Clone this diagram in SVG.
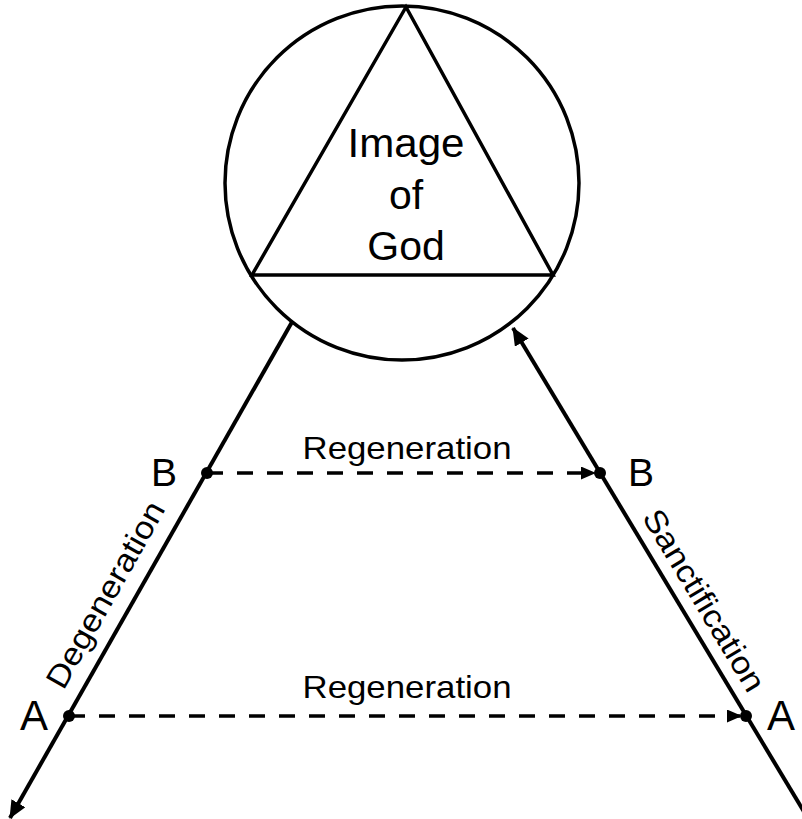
<svg xmlns="http://www.w3.org/2000/svg" width="802" height="819" viewBox="0 0 802 819">
<style>
.ln{fill:none;stroke:#000;stroke-width:4}
.sh{fill:none;stroke:#000;stroke-width:3.5}
.dash{fill:none;stroke:#000;stroke-width:3.5;stroke-dasharray:16 14}
.t{font-family:"Liberation Sans",Arial,sans-serif;fill:#000}
.dot{fill:#000}
</style>
<defs>
<marker id="ah" markerUnits="userSpaceOnUse" markerWidth="22" markerHeight="18" refX="17" refY="8" orient="auto">
<path d="M0,0 L18,8 L0,16 z" fill="#000"/>
</marker>
<marker id="ahs" markerUnits="userSpaceOnUse" markerWidth="18" markerHeight="14" refX="13" refY="6.5" orient="auto">
<path d="M0,0 L15,6.5 L0,13 z" fill="#000"/>
</marker>
</defs>
<rect width="802" height="819" fill="#fff"/>
<g id="image-of-god">
<circle class="sh" cx="402" cy="183" r="177"/>
<polygon class="sh" points="406,7 252,275 553,275"/>
<text class="t" font-size="41" text-anchor="middle" x="406" y="157" textLength="117" lengthAdjust="spacingAndGlyphs">Image</text>
<text class="t" font-size="41" text-anchor="middle" x="406" y="209">of</text>
<text class="t" font-size="41" text-anchor="middle" x="406" y="260">God</text>
</g>
<g id="connectors">
<line id="degeneration-line" class="ln" x1="292" y1="322" x2="10" y2="818" marker-end="url(#ah)"/>
<line id="sanctification-line" class="ln" x1="812" y1="825" x2="513" y2="328" marker-end="url(#ah)"/>
<line id="regen-b" class="dash" x1="207" y1="473" x2="594" y2="473" marker-end="url(#ahs)"/>
<line id="regen-a" class="dash" x1="69" y1="716" x2="740" y2="716" marker-end="url(#ahs)"/>
<text class="t" font-size="31.5" text-anchor="middle" x="407" y="459" textLength="209" lengthAdjust="spacingAndGlyphs">Regeneration</text>
<text class="t" font-size="31.5" text-anchor="middle" x="407" y="698" textLength="209" lengthAdjust="spacingAndGlyphs">Regeneration</text>
<text class="t" font-size="31.5" text-anchor="middle" transform="translate(130.5,608.8) rotate(-60.6)" x="0" y="-18" textLength="209" lengthAdjust="spacingAndGlyphs">Degeneration</text>
<text class="t" font-size="31.5" text-anchor="middle" transform="translate(684.6,612) rotate(58.9)" x="0" y="-12" textLength="207" lengthAdjust="spacingAndGlyphs">Sanctification</text>
</g>
<g id="point-b-left">
<circle class="dot" cx="207" cy="473" r="6"/>
<text class="t" font-size="39" x="151" y="486">B</text>
</g>
<g id="point-b-right">
<circle class="dot" cx="600" cy="473" r="6"/>
<text class="t" font-size="39" x="628" y="486">B</text>
</g>
<g id="point-a-left">
<circle class="dot" cx="69" cy="716" r="6"/>
<text class="t" font-size="42" x="20" y="730">A</text>
</g>
<g id="point-a-right">
<circle class="dot" cx="746" cy="716" r="6"/>
<text class="t" font-size="42" x="767" y="730">A</text>
</g>
</svg>
